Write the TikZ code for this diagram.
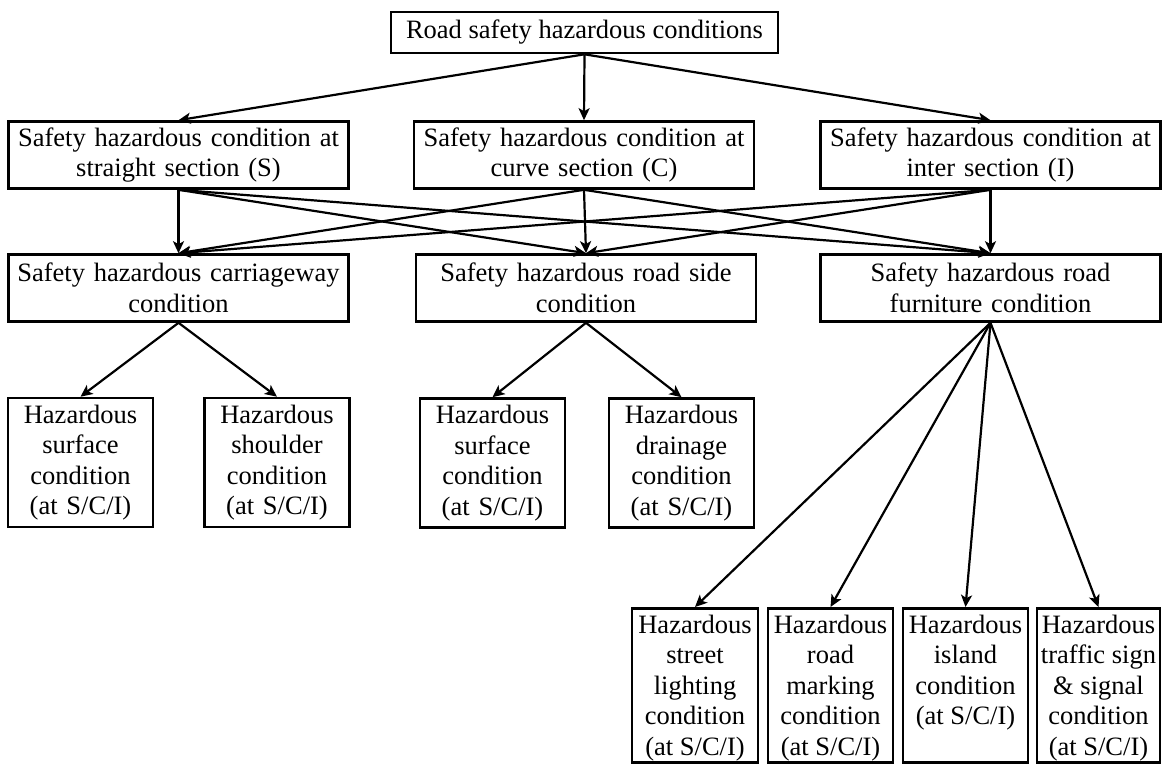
\documentclass[tikz,border=0pt]{standalone}
\usepackage{fontspec}
\setmainfont{Liberation Serif}
\usetikzlibrary{arrows.meta}
\newcommand\topalignedbox[2]{\parbox[c][154pt][t]{#1}{\centering\rule{0pt}{25pt}#2}}
\begin{document}
\begin{tikzpicture}[x=1pt,y=-1pt,
  box/.style={draw, line width=2.6pt, inner sep=0pt, align=center, font=\fontsize{26.5}{30.5}\selectfont},
  lvltwo/.style={box, minimum width=340pt, minimum height=67pt, text width=330pt},
  lvlfour/.style={box, minimum width=145pt, minimum height=129pt, text width=140pt},
  lvlfive/.style={box, anchor=north},
  arr/.style={line width=2.2pt, -{Stealth[length=12pt,width=11pt,inset=3pt]}},
]
\useasboundingbox (0,0) rectangle (1162,764);

\node[box, minimum width=387pt, minimum height=41pt] (top) at (584.5,32.5) {Road safety hazardous conditions};

\node[lvltwo] (S) at (178.5,155) {Safety hazardous condition at\\straight section (S)};
\node[lvltwo] (C) at (584,155) {Safety hazardous condition at\\curve section (C)};
\node[lvltwo] (I) at (990.5,155) {Safety hazardous condition at\\inter section (I)};

\node[lvltwo] (CW) at (178.5,288) {Safety hazardous carriageway\\condition};
\node[lvltwo] (RS) at (586,288) {Safety hazardous road side\\condition};
\node[lvltwo] (F) at (990.5,288) {Safety hazardous road\\furniture condition};

\node[lvlfour] (CWa) at (80.5,462.5) {Hazardous\\surface\\condition\\(at S/C/I)};
\node[lvlfour] (CWb) at (277,462.5) {Hazardous\\shoulder\\condition\\(at S/C/I)};
\node[lvlfour] (RSa) at (492.5,463) {Hazardous\\surface\\condition\\(at S/C/I)};
\node[lvlfour] (RSb) at (681.5,463) {Hazardous\\drainage\\condition\\(at S/C/I)};

\node[lvlfive] (Fa) at (695,607) {\topalignedbox{126pt}{Hazardous\\street\\lighting\\condition\\(at S/C/I)}};
\node[lvlfive] (Fb) at (830.5,607) {\topalignedbox{125pt}{Hazardous\\road\\marking\\condition\\(at S/C/I)}};
\node[lvlfive] (Fc) at (965.5,607) {\topalignedbox{125pt}{Hazardous\\island\\condition\\(at S/C/I)}};
\node[lvlfive] (Fd) at (1098.5,607) {\topalignedbox{123pt}{Hazardous\\traffic sign\\\& signal\\condition\\(at S/C/I)}};

\foreach \t in {S,C,I} \draw[arr] (top.south) -- (\t.north);
\foreach \s in {S,C,I} \foreach \t in {CW,RS,F} \draw[arr] (\s.south) -- (\t.north);
\draw[arr] (CW.south) -- (CWa.north);
\draw[arr] (CW.south) -- (CWb.north);
\draw[arr] (RS.south) -- (RSa.north);
\draw[arr] (RS.south) -- (RSb.north);
\foreach \t in {Fa,Fb,Fc,Fd} \draw[arr] (F.south) -- (\t.north);
\end{tikzpicture}
\end{document}
